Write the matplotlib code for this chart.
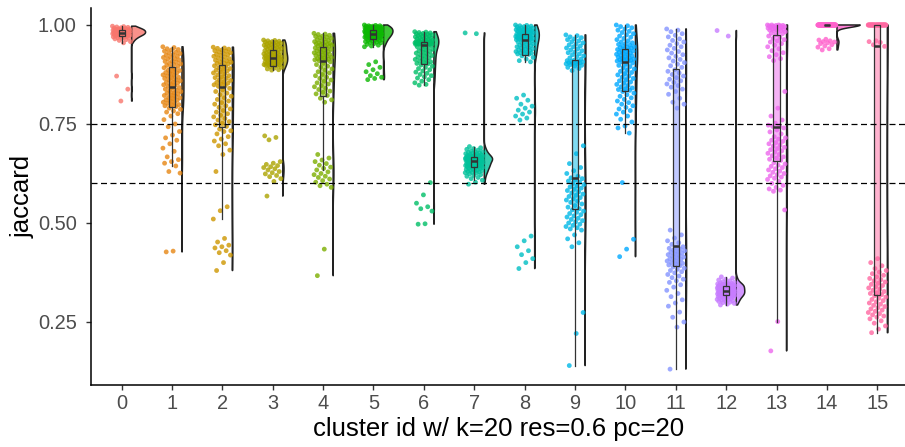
import numpy as np
import matplotlib
matplotlib.use("Agg")
import matplotlib.pyplot as plt

plt.rcParams['font.family'] = ['Liberation Sans', 'DejaVu Sans']


def parse(s):
    # values typed in thousandths
    return np.array([int(t) for t in s.split()]) / 1000.0


clusters = list(range(16))

jac_0 = parse("""
997 996 995 994 993 992 991 990 990 989 989 988 988 987 987 987
986 986 985 985 984 984 983 983 982 982 981 981 980 980 980
979 979 978 978 977 977 976 976 975 975 974 974 973 973 972
971 970 969 968 967 966 965 963 961 958 955
871 838 808""")
jac_1 = parse("""
945 943 940 938 937 934 931 930 928 925 924 921 920 918 915 914 912 909 908 906 903 902 900 898 896
893 892 889 886 885 883 880 879 877 874 873 871 868 867 865 862 861 859 856 855 853 850 849 847 845
842 841 838 835 834 832 829 828 826 823 822 820 817 816 814 811 810 808 805 804 802 799 798 796 794
790 787 783 780 776 770 761 750 743 731 722 715 709 700 689 681 667 660 655 651 644 630 626 429 427""")
jac_2 = parse("""
944 942 941 939 937 935 934 932 930 928 926 925 923 921 919 917 915 913 911 909 907 906 904 903 902
899 897 895 892 890 888 886 884 881 879 877 874 872 869 867 865 862 860 857 855 853 851 849 847 845
840 836 832 828 824 820 816 812 808 804 800 796 792 788 784 780 776 772 768 764 760 756 752 748 744
737 733 731 725 718 712 707 700 695 684 673 630 541 531 510 461 452 444 440 437 430 425 419 400 380""")
jac_3 = parse("""
962 961 960 959 958 957 956 955 954 953 952 951 950 949 948 947 946 945 944 943 942 941 940 939 938
936 935 934 933 932 931 930 929 928 927 926 925 924 923 922 921 920 920 919 919 918 918 917 917 916
915 915 914 913 912 911 910 910 909 908 907 906 905 905 904 903 902 901 900 900 899 899 898 898 897
895 893 891 889 887 886 720 716 710 655 651 648 645 642 640 637 634 630 627 624 620 617 612 605 568""")
jac_4 = parse("""
979 977 976 974 972 971 969 968 966 964 963 961 960 958 957 955 954 953 952 951 950 949 948 947 946
944 942 941 939 938 936 935 933 932 930 929 927 926 924 923 921 920 918 917 915 914 913 912 911 910
907 903 900 896 893 889 886 882 879 875 872 868 865 861 858 854 851 847 844 840 837 833 830 826 822
815 811 805 673 664 659 655 650 646 641 638 634 629 625 622 618 615 611 607 603 598 594 590 434 367""")
jac_5 = parse("""
1000 999 998 998 997 997 996 996 995 995 994 994 993 993 993 992 992 992 991 991 991 990 990 990 989
988 988 987 987 986 986 986 985 985 984 984 984 983 983 982 982 982 981 981 981 980 980 980 979 979
978 978 977 977 976 976 975 975 974 974 973 973 972 972 971 971 970 970 969 969 968 968 967 966 965
964 963 962 961 960 959 958 957 956 955 953 951 949 947 945 907 900 893 887 882 877 872 868 865 862""")
jac_6 = parse("""
983 982 981 980 979 978 977 976 975 974 973 972 971 970 969 968 967 966 965 964 963 962 961 960 959
958 958 957 957 957 956 956 956 955 955 955 954 954 954 953 953 953 952 952 952 952 951 951 951 951
949 947 945 943 941 939 937 935 933 931 929 927 925 923 921 919 917 915 913 911 909 907 905 903 902
899 896 893 890 887 884 881 878 875 872 869 866 862 858 854 850 848 602 571 550 541 536 530 498 497""")
jac_7 = parse("""
980 978 693 690 688 686 684 682 680 679 678 677 676 675 674 673 672 671 670 670 669 669 668 668 667
667 666 666 665 665 664 664 663 663 663 662 662 662 661 661 661 660 660 660 659 659 658 658 658 657
657 656 655 655 654 653 653 652 651 651 650 649 649 648 647 647 646 645 645 644 644 643 643 642 642
641 640 639 638 637 636 635 634 633 632 631 630 629 628 627 626 624 622 620 618 615 612 608 603 598""")
jac_8 = parse("""
1000 999 998 997 996 995 994 993 992 991 990 989 988 988 987 986 985 984 984 983 982 981 981 980 980
978 977 977 976 975 974 974 973 972 971 971 970 969 968 968 967 966 966 965 965 964 964 963 963 962
960 958 957 955 954 952 951 949 948 946 945 943 942 940 939 937 936 934 933 931 930 929 928 927 926
922 918 914 910 907 823 815 810 800 795 790 785 780 775 770 765 760 467 455 440 430 420 410 400 385""")
jac_9 = parse("""
975 973 970 968 965 963 960 958 955 952 950 947 945 942 940 937 935 932 930 927 925 922 920 917 914
911 910 909 908 907 906 905 904 903 902 901 900 898 896 893 890 885 695 675 650 640 632 625 618 614
612 609 606 603 600 597 594 591 588 585 582 579 576 573 570 567 564 561 558 555 552 548 544 540 536
533 530 527 524 521 518 515 512 509 506 503 500 497 494 491 488 485 482 470 460 450 440 274 221 140""")
jac_10 = parse("""
1000 998 996 993 990 987 984 981 978 975 972 969 966 963 960 957 955 953 951 949 947 945 944 943 942
940 938 937 935 934 932 931 929 928 926 925 923 922 920 919 917 916 914 913 912 911 910 909 908 907
904 901 898 895 892 889 886 883 880 877 874 871 868 865 862 859 856 853 850 847 844 841 839 837 835
832 828 824 820 816 812 808 804 800 796 792 788 784 780 775 770 762 755 745 740 727 602 459 434 415""")
jac_11 = parse("""
990 987 983 978 974 970 965 961 957 953 949 945 941 937 933 929 925 921 917 913 909 905 901 897 893
887 883 879 875 871 867 863 859 855 851 847 843 838 832 825 815 805 800 790 482 470 462 455 450 446
440 438 436 434 432 430 428 426 424 422 420 418 416 414 412 410 408 406 404 402 400 398 396 394 392
389 386 383 380 377 374 370 366 362 358 354 350 344 338 330 322 314 306 298 290 275 262 250 237 131""")
jac_12 = parse("""
986 972 364 361 358 356 354 352 350 349 348 347 346 346 345 345 344 344 343 343 343 342 342 342 341
341 340 340 339 339 338 338 337 337 336 336 335 335 334 334 333 333 332 332 331 331 330 330 330 329
329 328 328 327 327 326 326 325 325 324 324 323 323 323 322 322 321 321 321 320 320 319 319 318 318
317 317 316 316 315 315 314 314 313 312 311 310 309 308 307 306 305 304 303 302 300 299 297 295 293""")
jac_13 = parse("""
1000 1000 1000 999 999 998 998 997 996 995 995 994 993 992 991 990 989 988 987 986 985 983 981 979 978
975 972 969 966 963 960 957 953 949 945 940 935 930 925 920 915 910 832 790 770 760 752 747 745 744
740 735 730 725 718 715 712 709 706 703 700 697 694 691 688 685 682 679 676 673 670 667 664 661 658
652 649 646 643 640 637 634 631 628 625 622 619 616 613 610 605 600 595 590 586 583 580 533 251 177""")
jac_14 = parse("""
1000 1000 1000 1000 1000 1000 1000 1000 1000 1000 1000 1000 1000 1000 1000 1000 1000 1000 1000 1000
1000 1000 1000 1000 1000 1000 1000 1000 1000 1000 1000 1000 1000 1000 1000 1000 1000 1000 1000 1000
1000 1000 1000 1000 1000 1000 1000 1000 1000 1000 1000 1000 1000 1000 1000 1000 1000 1000 1000 1000
1000 1000 1000 1000 1000 1000 1000 1000 1000 1000 1000 1000 1000 1000 1000 1000 1000 1000 1000 1000
964 962 960 958 957 955 953 950 947 944 940 937""")
jac_15 = parse("""
1000 1000 1000 1000 1000 1000 1000 1000 1000 1000 1000 1000 1000 1000 1000 1000 1000 1000 1000 1000
1000 1000 1000 1000 1000 1000 1000 1000 1000 1000 1000 1000 1000 1000 1000 1000 1000 1000 1000 1000
1000 1000 1000 1000 1000 1000
960 958 956 950 946
410 400 392 385 380 376 372 368 364 360 357 354 351 348 345 342 339 336 333 330 327 324 322 319
316 313 310 307 304 301 298 295 292 289 286 283 280 277 274 271 268 265 262 258 253 247 240 232 223""")

jaccard = [jac_0, jac_1, jac_2, jac_3, jac_4, jac_5, jac_6, jac_7,
           jac_8, jac_9, jac_10, jac_11, jac_12, jac_13, jac_14, jac_15]
thresholds = [0.75, 0.6]


def hcl_hex(h, c=100.0, l=65.0):
    # ggplot2 hue_pal colours (polar Luv -> sRGB)
    hr = np.deg2rad(h)
    u, v = c * np.cos(hr), c * np.sin(hr)
    Xn, Yn, Zn = 95.047, 100.0, 108.883
    Y = Yn * ((l + 16) / 116) ** 3
    d = Xn + 15 * Yn + 3 * Zn
    up = u / (13 * l) + 4 * Xn / d
    vp = v / (13 * l) + 9 * Yn / d
    X = Y * 9 * up / (4 * vp)
    Z = Y * (12 - 3 * up - 20 * vp) / (4 * vp)
    M = np.array([[3.2404542, -1.5371385, -0.4985314],
                  [-0.9692660, 1.8760108, 0.0415560],
                  [0.0556434, -0.2040259, 1.0572252]])
    rgb = np.clip(M @ (np.array([X, Y, Z]) / 100), 0, 1)
    rgb = np.where(rgb <= 0.0031308, 12.92 * rgb, 1.055 * rgb ** (1 / 2.4) - 0.055)
    return tuple(np.clip(rgb, 0, 1))


hues = np.linspace(15, 375, len(clusters) + 1)[:-1]
colors = [hcl_hex(h) for h in hues]


def bw_nrd0(x):
    hi = np.std(x, ddof=1)
    q75, q25 = np.percentile(x, [75, 25])
    lo = min(hi, (q75 - q25) / 1.34)
    if lo == 0:
        lo = hi if hi > 0 else 1.0
    return 0.9 * lo * len(x) ** -0.2


# densities (trimmed to data range), area scaled
grids, dens = [], []
for vals in jaccard:
    g = np.linspace(vals.min(), vals.max(), 512)
    bw = bw_nrd0(vals)
    k = np.exp(-0.5 * ((g[:, None] - vals[None, :]) / bw) ** 2).sum(axis=1)
    k = k / (len(vals) * bw * np.sqrt(2 * np.pi))
    grids.append(g)
    dens.append(k)
dmax = max(d.max() for d in dens)

fig = plt.figure(figsize=(9.05, 4.47), dpi=100)
ax = fig.add_axes([91.3 / 905, 62 / 447, 1 - 91.3 / 905, 377 / 447])

violin_offset = 0.2
violin_width = 0.46
for i, vals in enumerate(jaccard):
    base = clusters[i] + violin_offset
    ax.fill_betweenx(grids[i], base, base + violin_width * dens[i] / dmax,
                     facecolor=colors[i], alpha=0.8, edgecolor='none', zorder=1)
    ax.fill_betweenx(grids[i], base, base + violin_width * dens[i] / dmax,
                     facecolor='none', edgecolor='#222222', linewidth=1.1, zorder=1.1)
    n = len(vals)
    jit = ((np.arange(n) * 0.6180339887) % 1 - 0.5) * 0.36
    ax.scatter(clusters[i] + jit, vals, s=12, color=colors[i], alpha=0.8,
               edgecolors='none', zorder=2)

bp = ax.boxplot(jaccard, positions=clusters, widths=0.12, showfliers=False,
                showcaps=False, patch_artist=True, whis=1.5, manage_ticks=False,
                zorder=3)
for i, box in enumerate(bp['boxes']):
    box.set_facecolor(colors[i] + (0.5,))
    box.set_edgecolor('#333333')
    box.set_linewidth(0.9)
for w in bp['whiskers']:
    w.set_color('#333333')
    w.set_linewidth(0.9)
for m in bp['medians']:
    m.set_color('#333333')
    m.set_linewidth(1.8)

for t in thresholds:
    ax.axhline(t, color='black', linestyle=(0, (4.8, 2.8)), linewidth=0.9, zorder=4)

ax.set_xlim(-0.6, 15.55)
ax.set_ylim(0.0909, 1.0429)
ax.set_xticks(clusters)
ax.set_xticklabels([str(c) for c in clusters])
ax.set_yticks([0.25, 0.50, 0.75, 1.00])
ax.set_yticklabels(['0.25', '0.50', '0.75', '1.00'])
ax.tick_params(axis='both', colors='#333333', labelcolor='#4D4D4D',
               labelsize=14.4, length=3.5, width=1.0, pad=3)
ax.tick_params(axis='y', pad=7)
for s in ['top', 'right']:
    ax.spines[s].set_visible(False)
for s in ['left', 'bottom']:
    ax.spines[s].set_color('black')
    ax.spines[s].set_linewidth(1.1)

ax.set_xlabel('cluster id w/ k=20 res=0.6 pc=20', fontsize=18.5, labelpad=3)
ax.set_ylabel('jaccard', fontsize=18.5, labelpad=2)

fig.savefig('out.png', dpi=100)
